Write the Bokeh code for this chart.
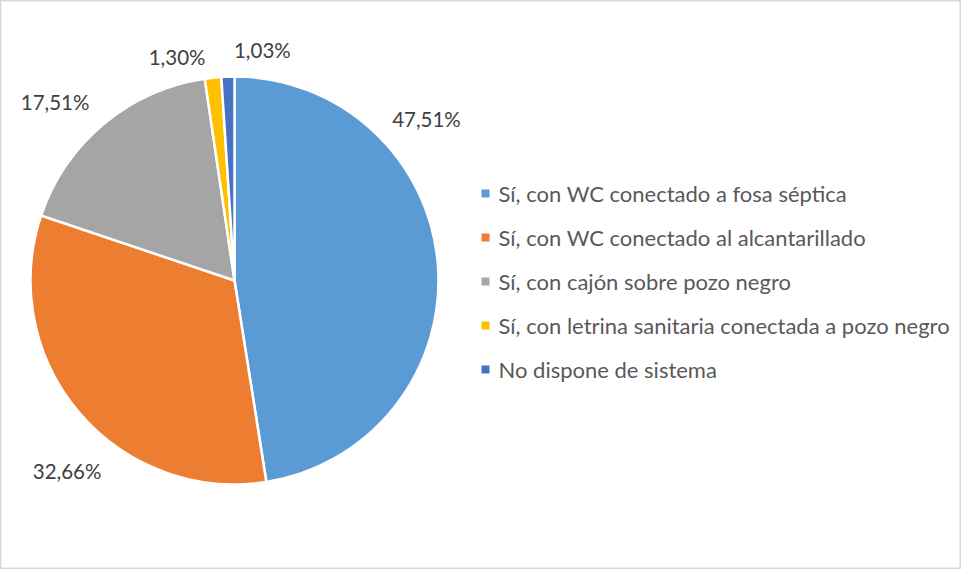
import math
from bokeh.plotting import figure
from bokeh.models import Range1d, ColumnDataSource
from bokeh.core.properties import value
from bokeh.embed import file_html
from bokeh.resources import INLINE

# ---- data ----
categories = [
    "Sí, con WC conectado a fosa séptica",
    "Sí, con WC conectado al alcantarillado",
    "Sí, con cajón sobre pozo negro",
    "Sí, con letrina sanitaria conectada a pozo negro",
    "No dispone de sistema",
]
percentages = [47.51, 32.66, 17.51, 1.30, 1.03]
labels = ["47,51%", "32,66%", "17,51%", "1,30%", "1,03%"]

# ---- style ----
colors = ["#5B9BD5", "#ED7D31", "#A5A5A5", "#FFC000", "#4472C4"]
label_angle_deg = [50.0, 221.3, 314.8, 345.6, 6.9]   # clockwise from 12 o'clock
label_radius = [250.6, 253.7, 252.8, 230.8, 231.7]

W, H = 961, 569
CX, CY, R = 234, 289, 204
FONT = "Lato"

p = figure(width=W, height=H, output_backend="svg", toolbar_location=None,
           x_range=Range1d(0, W), y_range=Range1d(0, H), min_border=0)
p.axis.visible = False
p.grid.visible = False
p.outline_line_color = "#D9D9D9"
p.outline_line_width = 2
p.background_fill_color = "white"
p.border_fill_color = "white"

total = sum(percentages)
starts, ends, cum = [], [], 0.0
for v in percentages:
    starts.append(math.pi / 2 - 2 * math.pi * cum / total)
    cum += v
    ends.append(math.pi / 2 - 2 * math.pi * cum / total)

src = ColumnDataSource(dict(x=[CX] * 5, y=[CY] * 5, start=starts, end=ends, color=colors))
p.wedge(x="x", y="y", radius=R, start_angle="start", end_angle="end", direction="clock",
        fill_color="color", line_color="white", line_width=2.5, source=src)

lx = [CX + r * math.sin(math.radians(a)) for a, r in zip(label_angle_deg, label_radius)]
ly = [CY + r * math.cos(math.radians(a)) for a, r in zip(label_angle_deg, label_radius)]
p.text(x=lx, y=ly, text=labels, text_align="center", text_baseline="middle",
       text_font=value(FONT), text_font_size="20.5px", text_color="#404040")

# legend (manual)
LX, LY0, LSTEP = 485, 376, 44
leg_y = [LY0 - i * LSTEP for i in range(len(categories))]
p.scatter(x=[LX] * 5, y=leg_y, marker="square", size=8, fill_color=colors, line_color=None)
p.text(x=[LX + 13] * 5, y=leg_y, text=categories, text_align="left", text_baseline="middle",
       text_font=value(FONT), text_font_size="22px", text_color="#595959")

open("out.html", "w").write(file_html(p, INLINE))
